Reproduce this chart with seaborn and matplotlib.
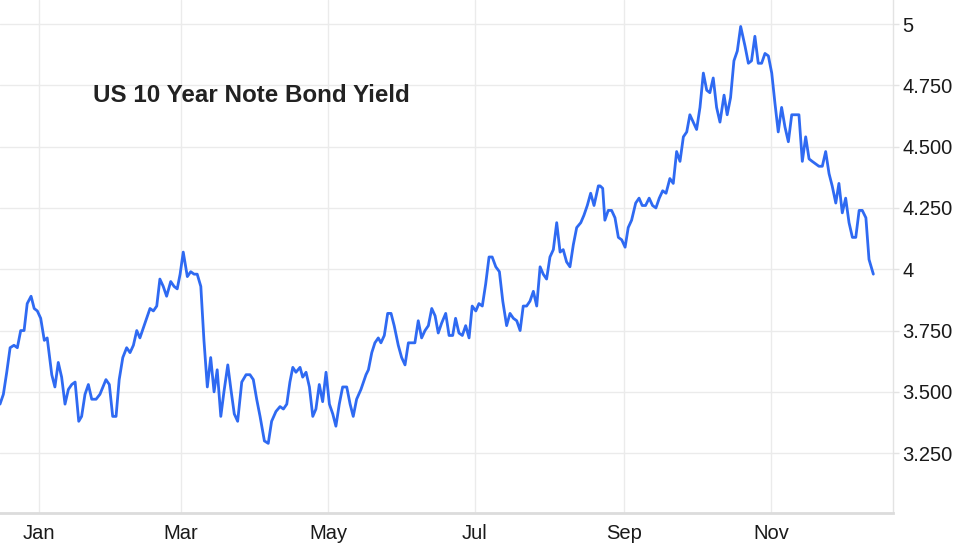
import numpy as np
import pandas as pd
import matplotlib
matplotlib.use("Agg")
import matplotlib.pyplot as plt
import matplotlib.dates as mdates
from matplotlib.ticker import FuncFormatter
import seaborn as sns

# days counted from 2023-01-01
days = [
    -16.2, -14.8, -13.4, -12.0, -10.4, -9.0, -7.6, -6.2, -4.9, -3.3, -2.0, -0.7,
    0.7, 2.2, 3.4, 5.3, 6.6, 8.0, 9.4, 10.8, 12.2, 13.6, 15.0, 16.5, 17.7, 19.1,
    20.5, 21.9, 23.7, 25.3, 27.8, 29.2, 30.6, 32.0, 33.3, 34.8, 36.4, 37.8, 39.2,
    40.6, 41.9, 43.3, 44.7, 46.1, 47.5, 48.9, 50.2, 51.6, 53.0, 54.7, 56.1, 57.4,
    58.6, 59.9, 61.6, 63.0, 64.4, 65.7, 67.2, 68.5, 69.9, 71.3, 72.7, 74.0, 75.5,
    76.8, 78.4, 79.7, 81.1, 82.5, 84.2, 86.0, 87.6, 89.0, 90.4, 91.8, 93.6, 95.2,
    96.6, 98.4, 100.1, 101.5, 102.9, 104.2, 105.4, 106.7, 108.4, 109.5, 110.9,
    112.3, 113.7, 115.0, 116.4, 117.8, 119.2, 120.6, 122.0, 123.3, 124.7, 126.1,
    127.8, 129.2, 130.5, 131.9, 133.7, 135.8, 136.8, 138.2, 139.5, 140.9, 142.0,
    143.4, 144.8, 146.2, 147.5, 149.2, 150.6, 152.0, 153.4, 154.8, 156.1, 157.5,
    158.9, 160.3, 161.7, 163.1, 164.5, 165.8, 167.2, 168.9, 170.3, 171.8, 173.0,
    174.4, 175.8, 177.2, 178.6, 179.9, 181.4, 182.7, 184.1, 185.5, 186.9, 188.2,
    189.7, 191.2, 192.6, 194.2, 195.6, 197.0, 198.4, 199.8, 201.1, 202.5, 203.9,
    205.3, 206.7, 208.1, 209.4, 210.8, 212.2, 213.6, 215.0, 216.4, 217.7, 219.1,
    220.5, 221.9, 223.3, 225.0, 226.3, 227.7, 229.1, 230.5, 232.3, 233.0, 234.1,
    235.0, 236.4, 237.8, 239.2, 240.6, 242.0, 243.4, 244.7, 246.1, 247.8, 249.2,
    250.5, 251.9, 253.4, 254.8, 256.2, 257.6, 259.0, 260.4, 262.0, 263.4, 264.8,
    266.2, 267.6, 269.0, 270.3, 271.7, 273.1, 274.5, 275.9, 277.3, 278.6, 280.0,
    281.4, 282.8, 284.5, 285.8, 287.2, 288.6, 290.0, 291.4, 293.2, 294.6, 295.9,
    297.3, 298.7, 300.1, 301.5, 302.9, 304.3, 305.6, 307.0, 308.4, 309.8, 311.2,
    312.6, 313.9, 315.6, 317.0, 318.4, 319.8, 321.1, 322.5, 323.9, 325.3, 326.7,
    328.1, 329.4, 330.9, 332.2, 333.6, 335.0, 336.4, 337.8, 339.2, 340.6, 341.9,
    343.4, 344.7, 346.5,
]

yields = [
    3.45, 3.49, 3.58, 3.68, 3.69, 3.68, 3.75, 3.75, 3.86, 3.89, 3.84, 3.83,
    3.80, 3.71, 3.72, 3.57, 3.52, 3.62, 3.56, 3.45, 3.51, 3.53, 3.54, 3.38, 3.40, 3.49,
    3.53, 3.47, 3.47, 3.49, 3.55, 3.53, 3.40, 3.40, 3.55, 3.64, 3.68, 3.66, 3.69,
    3.75, 3.72, 3.76, 3.80, 3.84, 3.83, 3.85, 3.96, 3.93, 3.89, 3.95, 3.93, 3.92,
    3.98, 4.07, 3.97, 3.99, 3.98, 3.98, 3.93, 3.71, 3.52, 3.64, 3.50, 3.59, 3.40,
    3.50, 3.61, 3.51, 3.41, 3.38, 3.54, 3.57, 3.57, 3.55, 3.47, 3.40, 3.30, 3.29,
    3.38, 3.42, 3.44, 3.43, 3.45, 3.54, 3.60, 3.58, 3.60, 3.56, 3.58,
    3.52, 3.40, 3.43, 3.53, 3.46, 3.58, 3.45, 3.41, 3.36, 3.45, 3.52,
    3.52, 3.45, 3.40, 3.47, 3.51, 3.57, 3.59, 3.66, 3.70, 3.72, 3.70,
    3.73, 3.82, 3.82, 3.77, 3.69, 3.64, 3.61, 3.70, 3.70, 3.70, 3.79,
    3.72, 3.75, 3.77, 3.84, 3.81, 3.74, 3.78, 3.82, 3.73, 3.73, 3.80,
    3.74, 3.73, 3.77, 3.72, 3.85, 3.83, 3.86, 3.85, 3.94, 4.05, 4.05,
    4.01, 3.99, 3.87, 3.77, 3.82, 3.80, 3.79, 3.75, 3.85, 3.85, 3.87,
    3.91, 3.85, 4.01, 3.98, 3.96, 4.05, 4.08, 4.19, 4.07, 4.08, 4.03,
    4.01, 4.10, 4.17, 4.19, 4.22, 4.26, 4.31, 4.26, 4.34, 4.34, 4.33,
    4.20, 4.24, 4.24, 4.21, 4.13, 4.12, 4.09, 4.17, 4.20, 4.27, 4.29,
    4.26, 4.26, 4.29, 4.26, 4.25, 4.29, 4.32, 4.31, 4.37, 4.35, 4.48,
    4.44, 4.54, 4.56, 4.63, 4.60, 4.57, 4.66, 4.80, 4.73, 4.72, 4.78,
    4.66, 4.60, 4.71, 4.63, 4.70, 4.85, 4.89, 4.99, 4.91, 4.84, 4.85,
    4.95, 4.84, 4.84, 4.88, 4.87, 4.80, 4.68, 4.56, 4.66, 4.58, 4.52,
    4.63, 4.63, 4.63, 4.44, 4.54, 4.45, 4.44, 4.43, 4.42, 4.42, 4.48,
    4.39, 4.34, 4.27, 4.35, 4.23, 4.29, 4.19, 4.13, 4.13, 4.24, 4.24,
    4.21, 4.04, 3.98,
]

y_ticks = [3.25, 3.5, 3.75, 4.0, 4.25, 4.5, 4.75, 5.0]
month_ticks = [1, 3, 5, 7, 9, 11]
title = "US 10 Year Note Bond Yield"

base = pd.Timestamp("2023-01-01")
df = pd.DataFrame({
    "date": base + pd.to_timedelta(days, unit="D"),
    "yield": yields,
})

sns.set_style("white")
plt.rcParams["font.family"] = ["Liberation Sans", "DejaVu Sans"]

fig = plt.figure(figsize=(9.58, 5.45), dpi=100)
ax = fig.add_axes([0.0, 0.0587, 0.932, 0.9413])

sns.lineplot(data=df, x="date", y="yield", ax=ax, color="#2f6af2", linewidth=2.0)

ax.set_xlim(base + pd.Timedelta(days=-16.2), base + pd.Timedelta(days=354.6))
ax.set_ylim(3.006, 5.098)

ax.yaxis.tick_right()
ax.set_yticks(y_ticks)
ax.yaxis.set_major_formatter(FuncFormatter(
    lambda v, p: f"{v:.0f}" if abs(v - round(v)) < 1e-9 else f"{v:.3f}"))
ax.xaxis.set_major_locator(mdates.MonthLocator(bymonth=month_ticks))
ax.xaxis.set_major_formatter(mdates.DateFormatter("%b"))

ax.tick_params(axis="y", length=4, width=1, color="#e3e3e3", pad=3,
               labelsize=14.5, labelcolor="#1a1a1a")
ax.tick_params(axis="x", length=0, pad=8, labelsize=14.5, labelcolor="#1a1a1a")

ax.grid(True, color="#ebebeb", linewidth=1)
ax.set_axisbelow(True)
for side in ["top", "left"]:
    ax.spines[side].set_visible(False)
ax.spines["right"].set_color("#e3e3e3")
ax.spines["right"].set_linewidth(1)
ax.spines["bottom"].set_color("#dcdcdc")
ax.spines["bottom"].set_linewidth(2)
ax.set_xlabel("")
ax.set_ylabel("")

ax.text(0.104, 0.813, title, transform=ax.transAxes, ha="left", va="center",
        fontsize=17.4, fontweight="bold", color="#222222")

fig.savefig("out.png", dpi=100, facecolor="white")
